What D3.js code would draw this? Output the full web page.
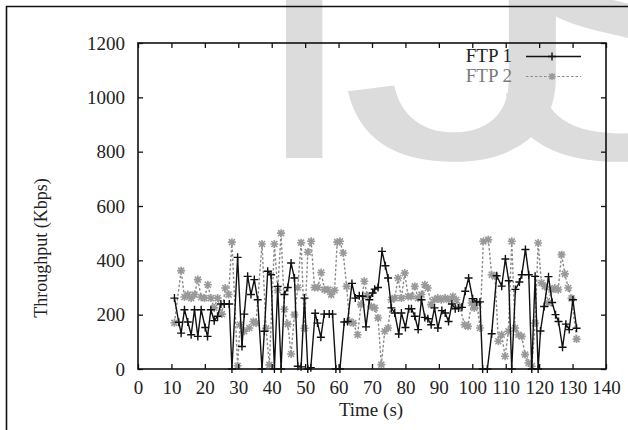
<!DOCTYPE html>
<html>
<head>
<meta charset="utf-8">
<script src="https://cdn.jsdelivr.net/npm/d3@7"></script>
<style>
    body { margin: 0; background: #fff; }
    svg { display: block; }
    .tick text { font-family: "Liberation Serif", "DejaVu Serif", serif; font-size: 19px; fill: #222; }
    .wm { font-family: "Liberation Sans", Arial, sans-serif; font-size: 390px; fill: #dcdcdc; }
</style>
</head>
<body>
<div id="chart"></div>
<script>
    var xTicks = [0, 10, 20, 30, 40, 50, 60, 70, 80, 90, 100, 110, 120, 130, 140];
    var yTicks = [0, 200, 400, 600, 800, 1000, 1200];
    var seriesNames = ["FTP 1", "FTP 2"];

    // FTP 1 (s, Kbps)
    var ftp1Time = [10.9, 12.2, 12.9, 13.9, 14.9, 15.9, 16.9, 17.9, 18.9, 20.1, 20.8, 21.8, 22.8, 23.8, 24.8, 25.8,
        27.3, 28.1, 29.8, 31.1, 31.8, 32.8, 33.8, 34.8, 35.8, 37.1, 37.8, 38.8, 39.8, 40.8, 41.8, 42.8, 43.8, 44.8,
        45.8, 46.8, 47.8, 48.8, 49.8, 50.8, 51.7, 53.0, 53.7, 54.7, 55.7, 57.2, 58.2, 59.2, 60.4, 61.7, 62.7, 64.0,
        65.0, 66.2, 67.2, 68.2, 69.2, 70.2, 70.8, 71.8, 73.0, 74.0, 74.8, 75.8, 76.8, 78.0, 78.8, 80.0, 81.0, 81.8,
        82.8, 83.8, 84.8, 85.8, 86.7, 87.7, 88.7, 89.7, 90.9, 91.9, 92.9, 93.9, 94.9, 95.9, 96.9, 97.9, 98.9, 100.1,
        101.3, 102.3, 103.1, 104.5, 105.8, 107.3, 108.8, 109.9, 110.9, 111.8, 112.9, 114.1, 114.8, 115.9, 116.9,
        117.8, 118.8, 119.7, 120.4, 121.5, 122.8, 123.9, 124.9, 125.8, 127.0, 128.0, 129.0, 130.1, 131.2];
    var ftp1Kbps = [261, 172, 132, 218, 173, 126, 218, 120, 218, 153, 120, 218, 178, 194, 239, 239,
        239, 0, 411, 83, 202, 341, 274, 329, 255, 0, 139, 360, 347, 0, 304, 0, 274, 300,
        390, 335, 10, 8, 261, 0, 5, 205, 169, 117, 202, 202, 202, 0, 0, 173, 175, 315,
        261, 270, 268, 155, 255, 280, 294, 300, 433, 380, 335, 225, 206, 129, 206, 153, 222, 222,
        194, 145, 255, 190, 185, 163, 225, 151, 215, 206, 175, 239, 222, 225, 227, 286, 335, 259,
        247, 247, 0, 0, 130, 343, 305, 405, 325, 0, 293, 320, 347, 440, 347,
        0, 341, 0, 140, 230, 340, 245, 200, 175, 80, 165, 145, 255, 150];

    // FTP 2 (s, Kbps)
    var ftp2Time = [10.9, 12.9, 13.9, 14.9, 15.9, 16.9, 17.9, 18.9, 19.9, 20.9, 21.8, 22.8, 23.8, 25.1, 26.1, 27.1,
        28.1, 29.8, 30.5, 31.8, 33.3, 34.5, 35.3, 37.1, 38.3, 39.3, 40.8, 41.8, 42.8, 43.8, 44.8, 45.8, 46.8, 47.8,
        48.8, 49.8, 50.8, 51.8, 52.8, 53.8, 54.8, 55.8, 56.8, 57.8, 58.8, 59.6, 60.4, 61.4, 62.4, 63.3, 64.4, 65.7,
        66.7, 67.7, 68.6, 69.8, 70.8, 71.8, 72.8, 73.8, 74.8, 75.8, 76.8, 77.8, 78.8, 79.8, 80.8, 81.8, 82.8, 83.8,
        84.8, 85.8, 86.7, 87.7, 88.7, 89.7, 90.7, 91.9, 93.0, 94.2, 95.2, 96.2, 97.7, 98.7, 99.8, 100.6, 101.4, 102.3,
        103.3, 104.8, 105.8, 106.8, 107.8, 108.8, 109.8, 110.8, 111.8, 112.8, 113.8, 114.8, 115.8, 116.8, 117.8,
        118.8, 119.7, 120.7, 121.7, 122.7, 123.7, 124.7, 125.7, 126.7, 127.7, 128.7, 129.7, 131.2];
    var ftp2Kbps = [170, 362, 265, 274, 261, 274, 329, 264, 261, 310, 261, 225, 261, 202, 298, 274,
        467, 12, 163, 139, 151, 175, 169, 460, 150, 15, 460, 290, 500, 220, 165, 55, 200, 300,
        465, 150, 430, 470, 300, 300, 355, 292, 292, 274, 290, 467, 470, 427, 304, 175, 169, 126,
        237, 323, 270, 230, 225, 188, 16, 139, 151, 255, 261, 335, 261, 353, 267, 267, 304, 261,
        274, 310, 298, 237, 255, 261, 255, 261, 255, 267, 255, 231, 163, 157, 243, 225, 243, 151,
        470, 476, 347, 341, 102, 126, 47, 139, 470, 151, 126, 120, 53, 22, 10,
        169, 464, 317, 304, 243, 292, 298, 292, 421, 350, 298, 260, 110];

    var width = 628;
    var height = 430;
    var serif = '"Liberation Serif", "DejaVu Serif", serif';

    var svg = d3.select("#chart")
        .append("svg")
        .attr("width", width)
        .attr("height", height);

    // watermark behind everything (the J is a bit wider in the original)
    var wm = svg.append("g");
    wm.append("text").attr("class", "wm").attr("x", 250).attr("y", 158).text("I");
    wm.append("text").attr("class", "wm")
        .attr("transform", "translate(340,158) scale(1.3,1)")
        .text("J");
    wm.append("text").attr("class", "wm").attr("x", 488).attr("y", 158).text("S");

    // page border
    svg.append("path")
        .attr("d", "M6.5,430V6.5H628")
        .attr("fill", "none")
        .attr("stroke", "#111")
        .attr("stroke-width", 1.6);

    var x = d3.scaleLinear().domain([0, 140]).range([138, 606]);
    var y = d3.scaleLinear().domain([0, 1200]).range([369, 43]);

    function series(t, v) {
        return t.map(function (d, i) { return [d, v[i]]; });
    }
    var data1 = series(ftp1Time, ftp1Kbps);
    var data2 = series(ftp2Time, ftp2Kbps);

    var line = d3.line()
        .x(function (d) { return x(d[0]); })
        .y(function (d) { return y(d[1]); });

    var plusPath = function (s) {
        return "M" + (-s) + ",0H" + s + "M0," + (-s) + "V" + s;
    };
    var starPath = function (s) {
        var k = s * 0.75;
        return plusPath(s) + "M" + (-k) + "," + (-k) + "L" + k + "," + k + "M" + (-k) + "," + k + "L" + k + "," + (-k);
    };

    // FTP 2 under FTP 1
    svg.append("path")
        .datum(data2)
        .attr("d", line)
        .attr("fill", "none")
        .attr("stroke", "#8a8a8a")
        .attr("stroke-width", 1.4)
        .attr("stroke-dasharray", "2.5,2");

    svg.selectAll(".star")
        .data(data2)
        .enter()
        .append("path")
        .attr("class", "star")
        .attr("transform", function (d) { return "translate(" + x(d[0]) + "," + y(d[1]) + ")"; })
        .attr("d", starPath(4))
        .attr("stroke", "#999")
        .attr("stroke-width", 1.6);

    svg.append("path")
        .datum(data1)
        .attr("d", line)
        .attr("fill", "none")
        .attr("stroke", "#111")
        .attr("stroke-width", 1.4);

    svg.selectAll(".plus")
        .data(data1)
        .enter()
        .append("path")
        .attr("class", "plus")
        .attr("transform", function (d) { return "translate(" + x(d[0]) + "," + y(d[1]) + ")"; })
        .attr("d", plusPath(4))
        .attr("stroke", "#111")
        .attr("stroke-width", 1.4);

    // axes, gnuplot style ticks pointing in
    var gx = svg.append("g")
        .attr("transform", "translate(0,369)")
        .call(d3.axisBottom(x).tickValues(xTicks).tickSize(-5).tickSizeOuter(0).tickPadding(12).tickFormat(d3.format("d")));
    var gxTop = svg.append("g")
        .attr("transform", "translate(0,43)")
        .call(d3.axisTop(x).tickValues(xTicks).tickSize(-5).tickSizeOuter(0).tickFormat(""));
    var gy = svg.append("g")
        .attr("transform", "translate(138,0)")
        .call(d3.axisLeft(y).tickValues(yTicks).tickSize(-5).tickSizeOuter(0).tickPadding(13).tickFormat(d3.format("d")));
    var gyRight = svg.append("g")
        .attr("transform", "translate(606,0)")
        .call(d3.axisRight(y).tickValues(yTicks).tickSize(-5).tickSizeOuter(0).tickFormat(""));

    [gx, gxTop, gy, gyRight].forEach(function (g) {
        g.select(".domain").remove();
        g.selectAll(".tick line").attr("stroke", "#111").attr("stroke-width", 1.3);
    });

    svg.append("rect")
        .attr("x", x(0))
        .attr("y", y(1200))
        .attr("width", x(140) - x(0))
        .attr("height", y(0) - y(1200))
        .attr("fill", "none")
        .attr("stroke", "#111")
        .attr("stroke-width", 1.6);

    // axis titles
    svg.append("text")
        .attr("x", 371)
        .attr("y", 416)
        .attr("text-anchor", "middle")
        .style("font-family", serif)
        .style("font-size", "19px")
        .style("fill", "#222")
        .text("Time (s)");

    svg.append("text")
        .attr("transform", "translate(47,248) rotate(-90)")
        .attr("text-anchor", "middle")
        .style("font-family", serif)
        .style("font-size", "18px")
        .style("fill", "#222")
        .text("Throughput (Kbps)");

    // legend
    var legend = svg.append("g");
    legend.append("text")
        .attr("x", 512).attr("y", 62)
        .attr("text-anchor", "end")
        .style("font-family", serif).style("font-size", "19px").style("fill", "#222")
        .text(seriesNames[0]);
    legend.append("line")
        .attr("x1", 526).attr("x2", 581).attr("y1", 56.5).attr("y2", 56.5)
        .attr("stroke", "#111").attr("stroke-width", 1.6);
    legend.append("path")
        .attr("transform", "translate(552,56.5)")
        .attr("d", plusPath(4))
        .attr("stroke", "#111").attr("stroke-width", 1.4);

    legend.append("text")
        .attr("x", 512).attr("y", 82)
        .attr("text-anchor", "end")
        .style("font-family", serif).style("font-size", "19px").style("fill", "#7a7a7a")
        .text(seriesNames[1]);
    legend.append("line")
        .attr("x1", 526).attr("x2", 581).attr("y1", 76.5).attr("y2", 76.5)
        .attr("stroke", "#8a8a8a").attr("stroke-width", 1.2).attr("stroke-dasharray", "2.5,2");
    legend.append("path")
        .attr("transform", "translate(552,76.5)")
        .attr("d", starPath(3.5))
        .attr("stroke", "#999").attr("stroke-width", 1.5);
</script>
</body>
</html>
